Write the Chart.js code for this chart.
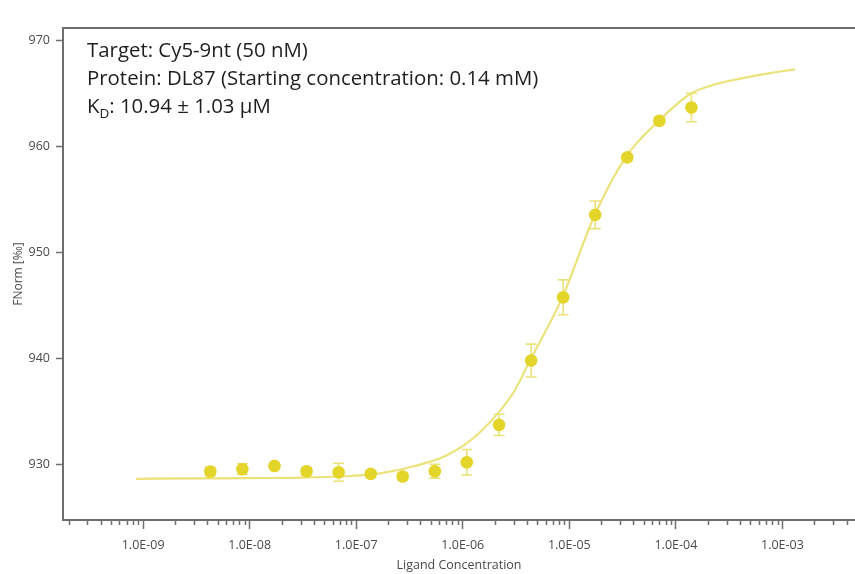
<!DOCTYPE html>
<html lang="en">
<head>
<meta charset="UTF-8">
<title>FNorm vs Ligand Concentration</title>
<script src="https://cdn.jsdelivr.net/npm/chart.js"></script>
<style>
    body { margin: 0; background: #fff; }
    canvas { display: block; }
</style>
</head>
<body>
<canvas id="mstChart" width="855" height="574"></canvas>
<script>
// ligand concentration (M), 2-fold dilution series starting at 0.14 mM
const concentrations = [4.27e-9, 8.54e-9, 1.71e-8, 3.42e-8, 6.84e-8, 1.37e-7, 2.73e-7, 5.47e-7,
                        1.09e-6, 2.19e-6, 4.38e-6, 8.75e-6, 1.75e-5, 3.5e-5, 7.0e-5, 1.4e-4];
const fnormValues = [929.37, 929.6, 929.9, 929.4, 929.3, 929.15, 928.9, 929.4,
                     930.25, 933.77, 939.84, 945.8, 953.58, 959.0, 962.45, 963.7];
const fnormErrors = [0.4, 0.5, 0.25, 0.35, 0.85, 0.3, 0.3, 0.65,
                     1.2, 1.0, 1.55, 1.65, 1.3, 0.3, 0.3, 1.34];

// fitted binding curve
const fitConc = [8.6e-10, 3.4e-9, 1.0e-8, 3.0e-8, 8.8e-8, 1.68e-7, 3.4e-7, 7.1e-7, 1.46e-6,
                 2.98e-6, 4.3e-6, 8.6e-6, 1.72e-5, 3.43e-5, 6.85e-5, 1.37e-4, 2.11e-4, 3.47e-4,
                 7.2e-4, 1.32e-3];
const fitValues = [928.68, 928.72, 928.75, 928.8, 928.95, 929.2, 929.85, 930.9, 933.1,
                   936.8, 939.9, 945.8, 953.5, 959.1, 962.4, 965.0, 965.75, 966.3,
                   966.9, 967.3];

const yTickValues = [930, 940, 950, 960, 970];
const xMin = 1.77e-10, xMax = 4.8e-3;
const yMin = 924.8, yMax = 971.2;

const infoLines = ['Target: Cy5-9nt (50 nM)', 'Protein: DL87 (Starting concentration: 0.14 mM)'];
const kdText = ': 10.94 \u00b1 1.03 \u00b5M';

const AXIS_GREY = '#6f6f6f';
const LABEL_GREY = '#4a4a4a';
const DOT_YELLOW = '#e3d52a';
const LINE_YELLOW = '#ece27a';
const INFO_FONT = '"Open Sans", sans-serif';

function isDecade(v) {
    const l = Math.log10(v);
    return Math.abs(l - Math.round(l)) < 1e-6;
}

function sciLabel(v) {
    const e = Math.round(Math.log10(v));
    const sign = e < 0 ? '-' : '+';
    return '1.0E' + sign + String(Math.abs(e)).padStart(2, '0');
}

// every 1..9 multiple inside the axis range
function logTicks() {
    const out = [];
    for (let d = -10; d <= -3; d++) {
        for (let m = 1; m <= 9; m++) {
            const v = m * Math.pow(10, d);
            if (v > xMin * 1.0001 && v < xMax * 0.9999) out.push({ value: v, major: m === 1 });
        }
    }
    return out;
}

const errorBars = {
    id: 'errorBars',
    beforeDatasetsDraw(chart) {
        const { ctx, scales: { x, y } } = chart;
        ctx.save();
        ctx.strokeStyle = LINE_YELLOW;
        ctx.lineWidth = 1.6;
        concentrations.forEach((c, i) => {
            const px = x.getPixelForValue(c);
            const top = y.getPixelForValue(fnormValues[i] + fnormErrors[i]);
            const bot = y.getPixelForValue(fnormValues[i] - fnormErrors[i]);
            ctx.beginPath();
            ctx.moveTo(px, top); ctx.lineTo(px, bot);
            ctx.moveTo(px - 5.5, top); ctx.lineTo(px + 5.5, top);
            ctx.moveTo(px - 5.5, bot); ctx.lineTo(px + 5.5, bot);
            ctx.stroke();
        });
        ctx.restore();
    }
};

const frameAndText = {
    id: 'frameAndText',
    afterDraw(chart) {
        const { ctx, chartArea, scales: { x } } = chart;
        ctx.save();
        // top frame line
        ctx.strokeStyle = AXIS_GREY;
        ctx.lineWidth = 2;
        ctx.beginPath();
        ctx.moveTo(chartArea.left - 1, chartArea.top);
        ctx.lineTo(chartArea.right, chartArea.top);
        ctx.stroke();

        // short minor ticks on the log axis
        ctx.lineWidth = 1.5;
        x.ticks.forEach(t => {
            if (isDecade(t.value)) return;
            const px = Math.round(x.getPixelForValue(t.value)) + 0.5;
            ctx.beginPath();
            ctx.moveTo(px, chartArea.bottom);
            ctx.lineTo(px, chartArea.bottom + 5);
            ctx.stroke();
        });

        // info text
        ctx.fillStyle = '#1e1e1e';
        ctx.textBaseline = 'alphabetic';
        ctx.textAlign = 'left';
        ctx.font = '20.4px ' + INFO_FONT;
        const left = 87;
        infoLines.forEach((line, i) => ctx.fillText(line, left, 57 + i * 28));
        ctx.fillText('K', left, 113);
        const kw = ctx.measureText('K').width;
        ctx.font = '13.5px ' + INFO_FONT;
        ctx.fillText('D', left + kw, 118);
        const dw = ctx.measureText('D').width;
        ctx.font = '20.4px ' + INFO_FONT;
        ctx.fillText(kdText, left + kw + dw, 113);
        ctx.restore();
    }
};

new Chart(document.getElementById('mstChart'), {
    type: 'scatter',
    data: {
        datasets: [
            {
                label: 'Fit',
                data: fitConc.map((c, i) => ({ x: c, y: fitValues[i] })),
                showLine: true,
                borderColor: LINE_YELLOW,
                borderWidth: 2.2,
                pointRadius: 0,
                cubicInterpolationMode: 'monotone',
                order: 2
            },
            {
                label: 'FNorm',
                data: concentrations.map((c, i) => ({ x: c, y: fnormValues[i] })),
                backgroundColor: DOT_YELLOW,
                borderColor: DOT_YELLOW,
                borderWidth: 0,
                pointRadius: 6.3,
                order: 1
            }
        ]
    },
    options: {
        responsive: false,
        animation: false,
        layout: { autoPadding: false, padding: { top: 28, right: 0, left: 0, bottom: 0 } },
        plugins: {
            legend: { display: false },
            tooltip: { enabled: false }
        },
        scales: {
            x: {
                type: 'logarithmic',
                min: xMin,
                max: xMax,
                afterBuildTicks: s => { s.ticks = logTicks(); },
                afterFit: s => { s.height = 54; s.paddingLeft = 0; s.paddingRight = 0; },
                border: { color: AXIS_GREY, width: 2 },
                grid: {
                    drawOnChartArea: false,
                    tickLength: 9,
                    tickWidth: 1.5,
                    tickColor: c => (c.tick && isDecade(c.tick.value)) ? AXIS_GREY : 'rgba(0,0,0,0)'
                },
                ticks: {
                    autoSkip: false,
                    maxRotation: 0,
                    padding: 9,
                    color: LABEL_GREY,
                    font: { family: '"Open Sans", sans-serif', size: 12.5 },
                    callback: v => isDecade(v) ? sciLabel(v) : ''
                },
                title: {
                    display: true,
                    text: 'Ligand Concentration',
                    color: LABEL_GREY,
                    font: { family: '"Open Sans", sans-serif', size: 12.5 },
                    padding: { top: 0, bottom: 1 }
                }
            },
            y: {
                min: yMin,
                max: yMax,
                afterBuildTicks: s => { s.ticks = yTickValues.map(v => ({ value: v })); },
                afterFit: s => { s.width = 63; },
                border: { color: AXIS_GREY, width: 2 },
                grid: {
                    drawOnChartArea: false,
                    tickLength: 7,
                    tickWidth: 1.5,
                    tickColor: AXIS_GREY
                },
                ticks: {
                    padding: 6,
                    color: LABEL_GREY,
                    font: { family: '"Open Sans", sans-serif', size: 12.5 }
                },
                title: {
                    display: true,
                    text: 'FNorm [\u2030]',
                    color: LABEL_GREY,
                    font: { family: '"Open Sans", sans-serif', size: 12 },
                    padding: { top: 11, bottom: 0 }
                }
            }
        }
    },
    plugins: [errorBars, frameAndText]
});
</script>
</body>
</html>
